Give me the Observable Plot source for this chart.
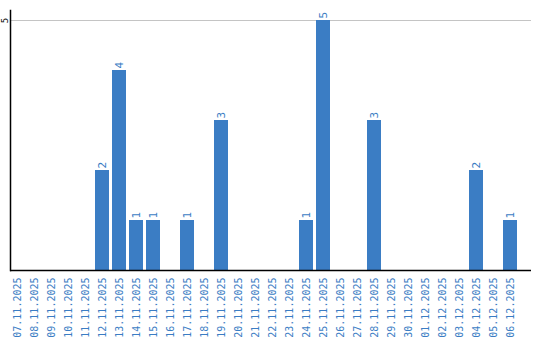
<!DOCTYPE html>
<html>
<head>
<meta charset="utf-8">
<script src="https://cdn.jsdelivr.net/npm/d3@7"></script>
<script src="https://cdn.jsdelivr.net/npm/@observablehq/plot@0.6"></script>
<style>
  html, body { margin: 0; padding: 0; background: #fff; }
  svg { overflow: visible; }
</style>
</head>
<body>
<div id="chart"></div>
<script>
const dates = ["07.11.2025","08.11.2025","09.11.2025","10.11.2025","11.11.2025","12.11.2025","13.11.2025","14.11.2025","15.11.2025","16.11.2025","17.11.2025","18.11.2025","19.11.2025","20.11.2025","21.11.2025","22.11.2025","23.11.2025","24.11.2025","25.11.2025","26.11.2025","27.11.2025","28.11.2025","29.11.2025","30.11.2025","01.12.2025","02.12.2025","03.12.2025","04.12.2025","05.12.2025","06.12.2025"];
const counts = [0,0,0,0,0,2,4,1,1,0,1,0,3,0,0,0,0,1,5,0,0,3,0,0,0,0,0,2,0,1];
const yTicks = [5];

const data = dates.map((d, i) => ({date: d, count: counts[i]}));
const blue = "#3b7dc4";

const chart = Plot.plot({
  width: 540,
  height: 340,
  marginTop: 10,
  marginLeft: 10,
  marginRight: 9,
  marginBottom: 70,
  style: {fontFamily: "DejaVu Sans Mono", fontSize: "10px", background: "#fff", overflow: "visible"},
  x: {domain: dates, range: [10, 517], paddingInner: 3 / 17, paddingOuter: 0},
  y: {domain: [0, 5], range: [270, 20], axis: null},
  marks: [
    Plot.gridY(yTicks, {stroke: "#c4c4c4", strokeOpacity: 1, strokeWidth: 1.2}),
    Plot.barY(data.filter(d => d.count > 0), {x: "date", y: "count", fill: blue}),
    Plot.text(data.filter(d => d.count > 0), {
      x: "date", y: "count", text: d => String(d.count),
      rotate: -90, textAnchor: "start", dy: -2, fill: blue, fontSize: 11
    }),
    Plot.axisX({tickSize: 0, tickPadding: 7, tickRotate: -90, color: blue, fill: blue, label: null, fontSize: 10}),
    Plot.text(yTicks, {
      y: d => d, text: d => String(d), frameAnchor: "left", dx: -5,
      rotate: -90, textAnchor: "middle", lineAnchor: "middle", fill: "#000", fontSize: 9
    }),
    Plot.ruleY([0], {stroke: "#000", strokeWidth: 1.5}),
    Plot.frame({anchor: "left", stroke: "#000", strokeWidth: 1.5})
  ]
});
document.getElementById("chart").appendChild(chart);
</script>
</body>
</html>
